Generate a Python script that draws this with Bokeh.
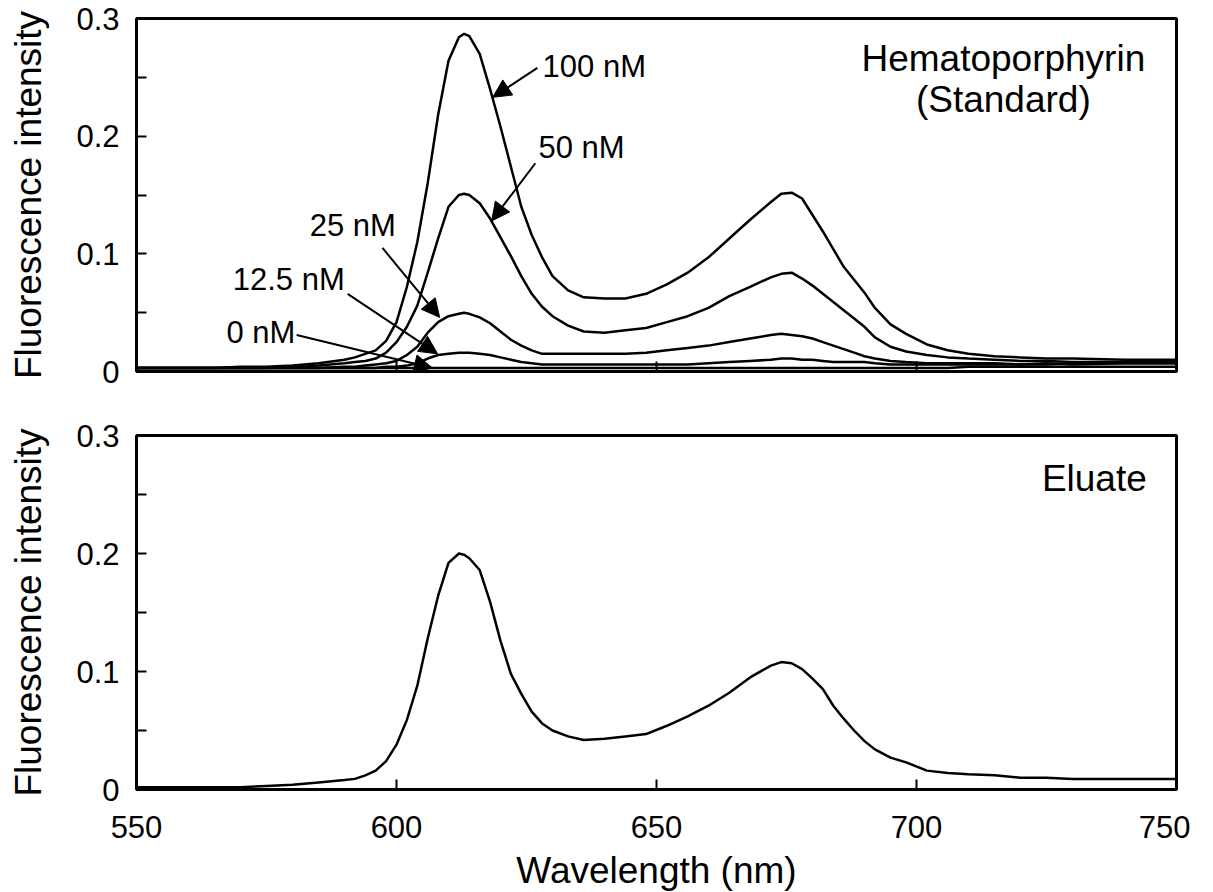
from bokeh.plotting import figure
from bokeh.models import FixedTicker, Arrow, NormalHead, Label, Range1d, ColumnDataSource
from bokeh.layouts import column
from bokeh.embed import file_html
from bokeh.resources import INLINE

FONT = "Liberation Sans"

# Wavelength grid (nm)
wavelength = [550, 555, 560, 565, 570, 575, 580, 585, 590, 592, 594, 596, 598,
              600, 602, 604, 606, 608, 610, 612, 613, 614, 616, 618, 620, 622,
              624, 626, 628, 630, 633, 636, 640, 644, 648, 652, 656, 660, 664,
              668, 672, 674, 676, 678, 680, 682, 684, 686, 688, 690, 692, 695,
              698, 702, 706, 710, 715, 720, 725, 730, 740, 750]

# Hematoporphyrin standards
hp_100 = [0.003, 0.003, 0.003, 0.003, 0.004, 0.004, 0.005, 0.007, 0.010, 0.012, 0.015, 0.018, 0.026,
          0.042, 0.072, 0.110, 0.160, 0.218, 0.264, 0.284, 0.287, 0.285, 0.270, 0.240, 0.208, 0.174,
          0.140, 0.116, 0.097, 0.081, 0.069, 0.063, 0.062, 0.062, 0.066, 0.074, 0.084, 0.097, 0.113,
          0.129, 0.144, 0.151, 0.152, 0.147, 0.133, 0.119, 0.104, 0.089, 0.078, 0.067, 0.054, 0.040,
          0.032, 0.023, 0.018, 0.015, 0.013, 0.012, 0.011, 0.011, 0.010, 0.010]
hp_50 = [0.003, 0.003, 0.003, 0.003, 0.003, 0.003, 0.004, 0.005, 0.007, 0.008, 0.009, 0.011, 0.016,
         0.025, 0.038, 0.056, 0.084, 0.113, 0.140, 0.150, 0.151, 0.150, 0.143, 0.130, 0.114, 0.098,
         0.081, 0.066, 0.055, 0.047, 0.039, 0.034, 0.033, 0.035, 0.037, 0.042, 0.047, 0.054, 0.064,
         0.072, 0.080, 0.083, 0.084, 0.079, 0.073, 0.066, 0.059, 0.052, 0.045, 0.038, 0.029, 0.021,
         0.017, 0.014, 0.012, 0.011, 0.010, 0.009, 0.009, 0.008, 0.008, 0.008]
hp_25 = [0.003, 0.003, 0.003, 0.003, 0.003, 0.003, 0.003, 0.003, 0.004, 0.004, 0.005, 0.006, 0.007,
         0.009, 0.014, 0.021, 0.033, 0.042, 0.047, 0.049, 0.050, 0.049, 0.046, 0.041, 0.034, 0.027,
         0.022, 0.018, 0.015, 0.015, 0.015, 0.015, 0.015, 0.015, 0.016, 0.018, 0.020, 0.022, 0.025,
         0.028, 0.031, 0.032, 0.031, 0.030, 0.028, 0.025, 0.022, 0.019, 0.016, 0.013, 0.011, 0.009,
         0.008, 0.007, 0.007, 0.007, 0.007, 0.006, 0.007, 0.006, 0.007, 0.007]
hp_12_5 = [0.003, 0.003, 0.003, 0.003, 0.003, 0.003, 0.003, 0.003, 0.003, 0.003, 0.003, 0.003, 0.004,
           0.004, 0.005, 0.007, 0.011, 0.014, 0.015, 0.016, 0.016, 0.016, 0.015, 0.014, 0.012, 0.010,
           0.008, 0.007, 0.006, 0.006, 0.006, 0.006, 0.006, 0.006, 0.006, 0.006, 0.006, 0.007, 0.008,
           0.009, 0.010, 0.011, 0.011, 0.010, 0.010, 0.009, 0.008, 0.008, 0.008, 0.008, 0.007, 0.006,
           0.006, 0.006, 0.006, 0.006, 0.006, 0.006, 0.006, 0.007, 0.007, 0.007]
hp_0 = [0.003, 0.003, 0.003, 0.003, 0.003, 0.003, 0.003, 0.003, 0.003, 0.003, 0.003, 0.003, 0.003,
        0.003, 0.003, 0.003, 0.003, 0.003, 0.003, 0.003, 0.003, 0.003, 0.003, 0.003, 0.003, 0.003,
        0.003, 0.003, 0.003, 0.003, 0.003, 0.003, 0.003, 0.003, 0.003, 0.003, 0.003, 0.003, 0.003,
        0.003, 0.003, 0.003, 0.003, 0.003, 0.003, 0.003, 0.003, 0.003, 0.003, 0.003, 0.003, 0.003,
        0.003, 0.003, 0.003, 0.004, 0.004, 0.004, 0.004, 0.004, 0.004, 0.004]

# Eluate
eluate = [0.002, 0.002, 0.002, 0.002, 0.002, 0.003, 0.004, 0.006, 0.008, 0.009, 0.012, 0.016, 0.024,
          0.038, 0.059, 0.088, 0.128, 0.164, 0.192, 0.200, 0.199, 0.196, 0.186, 0.159, 0.126, 0.098,
          0.081, 0.066, 0.056, 0.050, 0.045, 0.042, 0.043, 0.045, 0.047, 0.054, 0.062, 0.071, 0.082,
          0.095, 0.105, 0.108, 0.107, 0.102, 0.094, 0.085, 0.071, 0.060, 0.050, 0.041, 0.034, 0.027,
          0.023, 0.016, 0.014, 0.013, 0.012, 0.010, 0.010, 0.009, 0.009, 0.009]

x_ticks = [550, 600, 650, 700, 750]
y_ticks = [0, 0.1, 0.2, 0.3]
y_minor = [0.05, 0.15, 0.25]
y_labels = {0: "0", 0.1: "0.1", 0.2: "0.2", 0.3: "0.3"}

# annotations: text, text pos (left, baseline), arrow start, arrow tip
annotations = [
    ("100 nM", 628.1, 0.259, 627.1, 0.258, 618.5, 0.233),
    ("50 nM", 627.3, 0.1905, 626.7, 0.177, 618.3, 0.128),
    ("25 nM", 583.3, 0.124, 597.3, 0.105, 608.3, 0.046),
    ("12.5 nM", 568.5, 0.0778, 590.6, 0.066, 607.9, 0.015),
    ("0 nM", 567.3, 0.0334, 580.8, 0.031, 606.9, 0.003),
]


def style(p, show_xlabels):
    p.outline_line_color = "black"
    p.outline_line_width = 3
    p.grid.visible = False
    p.background_fill_color = "white"
    p.border_fill_color = "white"
    for ax in p.yaxis:
        ax.ticker = FixedTicker(ticks=y_ticks, minor_ticks=y_minor)
        ax.major_label_overrides = y_labels
        ax.axis_label = "Fluorescence intensity"
        ax.axis_label_text_font = FONT
        ax.axis_label_text_font_size = "37px"
        ax.axis_label_text_font_style = "normal"
        ax.axis_label_standoff = 24
        ax.major_label_text_font = FONT
        ax.major_label_text_font_size = "31px"
        ax.major_label_standoff = 17
        ax.axis_line_color = None
        ax.major_tick_in = 10
        ax.major_tick_out = 0
        ax.minor_tick_in = 10
        ax.minor_tick_out = 0
        ax.major_tick_line_width = 2
        ax.minor_tick_line_width = 2
        ax.major_label_text_color = "black"
        ax.axis_label_text_color = "black"
    for ax in p.xaxis:
        ax.ticker = FixedTicker(ticks=x_ticks, minor_ticks=[])
        ax.axis_line_color = None
        ax.major_tick_in = 10
        ax.major_tick_out = 0
        ax.minor_tick_in = 0
        ax.minor_tick_out = 0
        ax.major_tick_line_width = 2
        ax.major_label_text_font = FONT
        ax.major_label_text_color = "black"
        if show_xlabels:
            ax.major_label_text_font_size = "31px"
            ax.major_label_standoff = 26
            ax.axis_label = "Wavelength (nm)"
            ax.axis_label_text_font = FONT
            ax.axis_label_text_font_size = "37px"
            ax.axis_label_text_font_style = "normal"
            ax.axis_label_text_color = "black"
            ax.axis_label_standoff = 9
        else:
            ax.major_label_overrides = {t: "" for t in x_ticks}
            ax.major_label_text_font_size = "10px"
            ax.major_label_standoff = 0


p1 = figure(frame_width=1040, frame_height=353,
            x_range=Range1d(550, 750), y_range=Range1d(0, 0.3),
            min_border_left=136, min_border_right=14, min_border_top=18,
            min_border_bottom=32,
            output_backend="svg", toolbar_location=None)
style(p1, False)

src = ColumnDataSource(dict(wl=wavelength, h100=hp_100, h50=hp_50, h25=hp_25,
                            h12=hp_12_5, h0=hp_0, el=eluate))
for col in ["h0", "h12", "h25", "h50", "h100"]:
    p1.line("wl", col, source=src, line_color="black", line_width=2.5)

for txt, tx, ty, xs, ys, xe, ye in annotations:
    p1.add_layout(Label(x=tx, y=ty, text=txt, text_font=FONT, text_font_size="31px",
                        text_align="left", text_baseline="alphabetic", text_color="black"))
    p1.add_layout(Arrow(x_start=xs, y_start=ys, x_end=xe, y_end=ye, line_width=2,
                        line_color="black",
                        end=NormalHead(size=18, fill_color="black", line_color="black",
                                       line_width=1)))

p1.add_layout(Label(x=716.7, y=0.266, text="Hematoporphyrin", text_font=FONT,
                    text_font_size="37px", text_align="center", text_baseline="alphabetic",
                    text_color="black"))
p1.add_layout(Label(x=716.7, y=0.2315, text="(Standard)", text_font=FONT,
                    text_font_size="37px", text_align="center", text_baseline="alphabetic",
                    text_color="black"))

p2 = figure(frame_width=1040, frame_height=354,
            x_range=Range1d(550, 750), y_range=Range1d(0, 0.3),
            min_border_left=136, min_border_right=14, min_border_top=32,
            min_border_bottom=0,
            output_backend="svg", toolbar_location=None)
style(p2, True)
p2.line("wl", "el", source=src, line_color="black", line_width=2.5)
p2.add_layout(Label(x=734.2, y=0.2635, text="Eluate", text_font=FONT,
                    text_font_size="37px", text_align="center", text_baseline="alphabetic",
                    text_color="black"))

layout = column(p1, p2, spacing=0)
open("out.html", "w").write(file_html(layout, INLINE))
